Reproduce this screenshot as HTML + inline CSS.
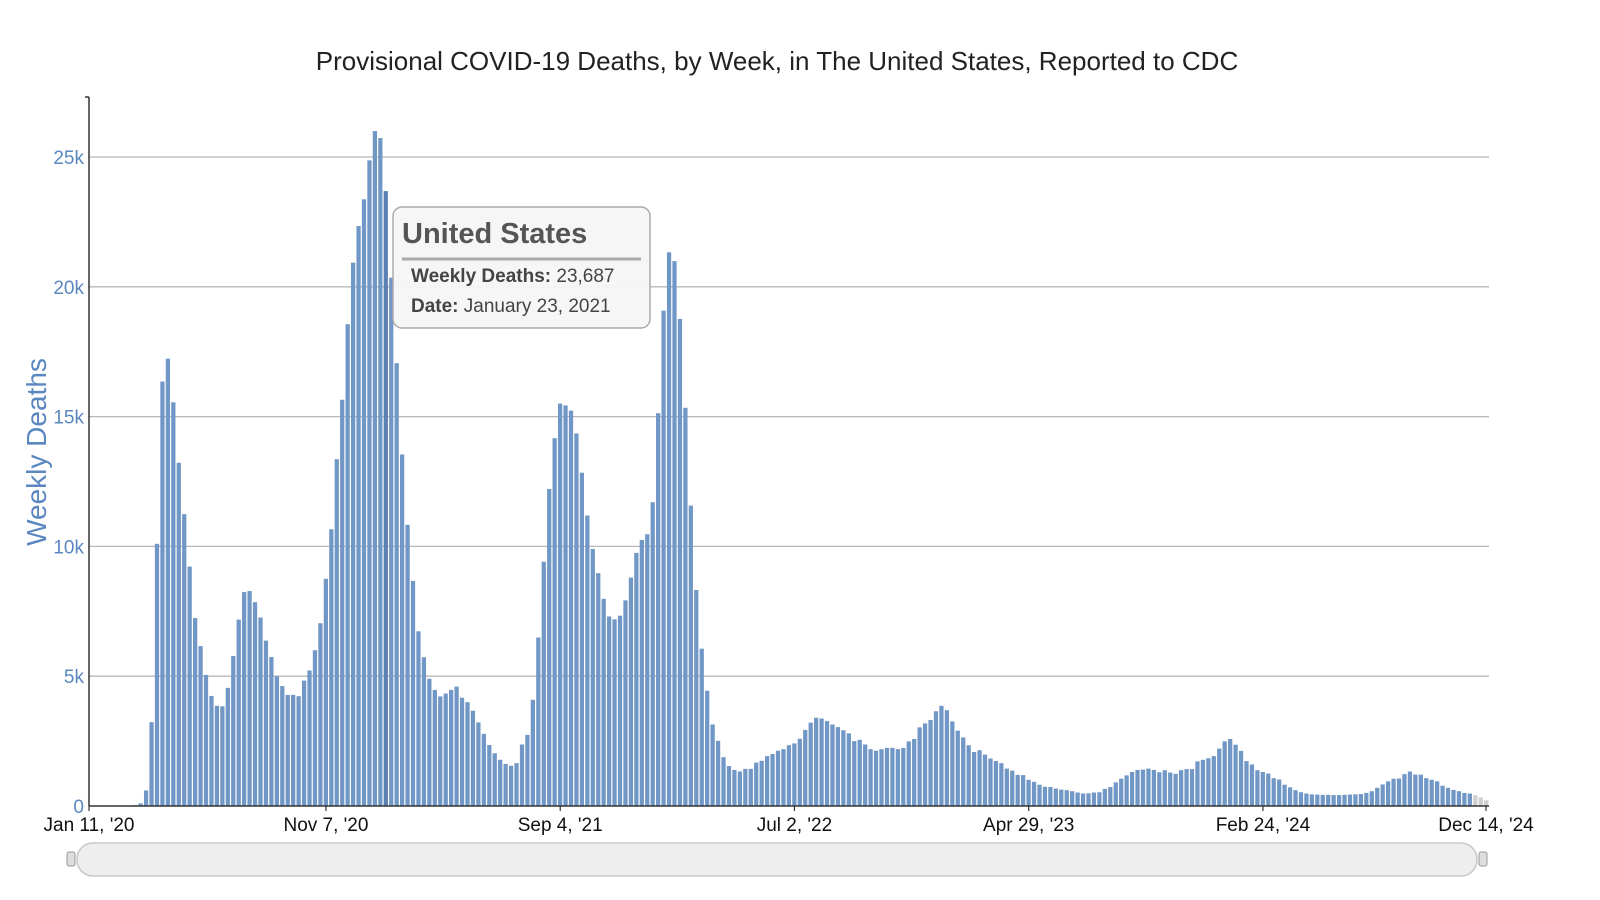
<!DOCTYPE html>
<html><head><meta charset="utf-8"><style>
html,body{margin:0;padding:0;background:#fff;}
svg{display:block;font-family:"Liberation Sans",sans-serif;}
</style></head><body>
<svg id="chart" width="1600" height="900">
<text x="777" y="70" text-anchor="middle" font-size="26" fill="#222">Provisional COVID-19 Deaths, by Week, in The United States, Reported to CDC</text>
<g id="grid"></g>
<g id="bars"></g>
<g id="axes"></g>
<text transform="translate(46,452) rotate(-90)" text-anchor="middle" font-size="28" fill="#5b87c0">Weekly Deaths</text>
<g>
<rect x="77" y="843" width="1400" height="33" rx="16" fill="#eeeeee" stroke="#c8c8c8" stroke-width="1.5"/>
<rect x="67" y="852" width="8" height="14" rx="2" fill="#ddd" stroke="#999"/>
<rect x="1479" y="852" width="8" height="14" rx="2" fill="#ddd" stroke="#999"/>
</g>
<g>
<rect x="393" y="207" width="257" height="121" rx="9" fill="#f6f6f6" fill-opacity="0.95" stroke="#aaa" stroke-width="1.5"/>
<text x="402" y="243" font-size="29" font-weight="bold" fill="#555">United States</text>
<line x1="402" y1="259" x2="641" y2="259" stroke="#aaa" stroke-width="3"/>
<text x="411" y="282" font-size="19" fill="#444"><tspan font-weight="bold">Weekly Deaths:</tspan> 23,687</text>
<text x="411" y="312" font-size="19" fill="#444"><tspan font-weight="bold">Date:</tspan> January 23, 2021</text>
</g>
</svg>
<script>
const weeklyDeaths = [0,0,0,0,0,0,0,10,30,100,600,3230,10100,16350,17230,15550,13220,11240,9220,7240,6160,5050,4240,3860,3840,4550,5780,7180,8240,8280,7850,7260,6370,5740,5000,4620,4280,4280,4230,4830,5220,6000,7040,8750,10660,13360,15650,18560,20930,22340,23370,24870,26000,25730,23687,20350,17060,13540,10830,8670,6730,5730,4900,4470,4220,4330,4470,4600,4170,4000,3670,3220,2780,2350,2030,1780,1620,1550,1650,2370,2740,4090,6490,9410,12210,14170,15500,15430,15230,14350,12840,11190,9900,8970,7980,7300,7190,7330,7920,8800,9750,10250,10470,11700,15130,19080,21330,20990,18760,15340,11570,8320,6060,4440,3140,2510,1880,1540,1390,1330,1430,1430,1670,1740,1920,2000,2130,2190,2340,2410,2590,2930,3210,3400,3370,3270,3140,3040,2920,2800,2500,2550,2370,2190,2130,2190,2240,2240,2190,2240,2490,2580,3030,3180,3310,3650,3860,3690,3260,2900,2640,2340,2080,2150,1980,1830,1730,1650,1440,1360,1200,1190,1010,930,820,740,730,670,630,610,570,520,480,490,520,530,660,730,910,1050,1180,1310,1390,1400,1440,1390,1300,1380,1290,1240,1380,1420,1420,1720,1780,1840,1920,2210,2490,2580,2360,2120,1730,1600,1380,1310,1250,1070,1020,820,720,610,530,480,450,440,430,430,420,420,430,440,450,460,500,570,700,830,950,1050,1060,1230,1330,1210,1210,1070,1010,950,780,700,620,570,500,480];
const partialWeeks = [420,330,220];
const yTicks = [0,5000,10000,15000,20000,25000];
const yTickLabels = ["0","5k","10k","15k","20k","25k"];
const xTickIndex = [0,43,86,129,172,215,256];
const xTickLabels = ["Jan 11, '20","Nov 7, '20","Sep 4, '21","Jul 2, '22","Apr 29, '23","Feb 24, '24","Dec 14, '24"];
const highlightIndex = 54;

const NS="http://www.w3.org/2000/svg";
const X0=89,X1=1489,Y0=806,YT=157;
const N=weeklyDeaths.length+partialWeeks.length;
const band=(X1-X0)/N;
function y(v){return Y0-(v/25000)*(Y0-YT);}
function xc(i){return X0+band*(i+0.5);}
function mk(tag,attrs,parent){const e=document.createElementNS(NS,tag);for(const k in attrs)e.setAttribute(k,attrs[k]);parent.appendChild(e);return e;}
const grid=document.getElementById('grid'),bars=document.getElementById('bars'),axes=document.getElementById('axes');
yTicks.forEach((t,k)=>{
  if(t>0){const l=mk('line',{x1:X0,x2:X1,y1:y(t),y2:y(t),stroke:'#b8b8b8','stroke-width':1.3},grid);
  
  }
  const tx=mk('text',{x:X0-5,y:y(t)+7,'text-anchor':'end','font-size':19,fill:'#5b87c0'},axes);
  tx.textContent=yTickLabels[k];
  
  
});
const all=weeklyDeaths.concat(partialWeeks);
all.forEach((v,i)=>{
  const partial=i>=weeklyDeaths.length;
  const r=mk('rect',{x:X0+band*i+0.5,y:y(v),width:Math.max(band-1.2,1),height:Y0-y(v),fill:partial?'#cfcfcf':(i===highlightIndex?'#5a80b6':'#7097c6')},bars);
  
  
});
let a=mk('line',{x1:X0,x2:X0,y1:97,y2:Y0,stroke:'#333','stroke-width':1.5},axes);


mk('line',{x1:X0-4,x2:X0,y1:97,y2:97,stroke:'#333','stroke-width':1.5},axes);
a=mk('line',{x1:X0,x2:X1,y1:Y0,y2:Y0,stroke:'#333','stroke-width':1.5},axes);


xTickIndex.forEach((idx,k)=>{
  let px=k===0?X0:(k===xTickIndex.length-1?X1-3:xc(idx));
  mk('line',{x1:px,x2:px,y1:Y0,y2:Y0+5,stroke:'#333','stroke-width':1.2},axes);
  const t=mk('text',{x:px,y:Y0+25,'text-anchor':'middle','font-size':19,fill:'#111'},axes);
  t.textContent=xTickLabels[k];
  
  
});
</script>
</body></html>
